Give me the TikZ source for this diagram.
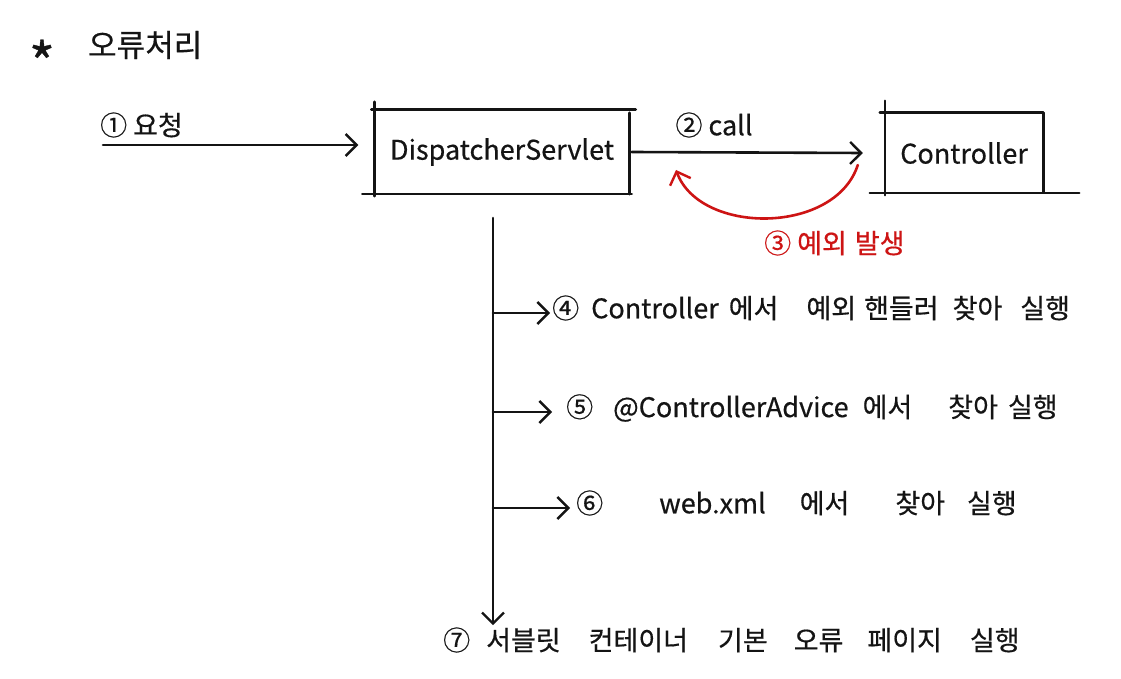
\documentclass[tikz,border=0pt]{standalone}
\usepackage{fontspec}
\setmainfont{Noto Sans CJK KR}[FakeBold=0.5]
\usetikzlibrary{arrows.meta}
\definecolor{penred}{RGB}{205,20,20}
\definecolor{ink}{RGB}{20,20,20}
\begin{document}
\begin{tikzpicture}[x=1pt,y=-1pt,
  pen/.style={line width=2.6pt,line cap=round,line join=round,draw=ink},
  tip/.style={-{Straight Barb[length=11pt,width=22pt,line width=2.4pt]}},
  hand/.style={font=\fontsize{27}{32}\selectfont,inner sep=0pt,text=ink},
  box/.style={hand,minimum height=84pt},
  ]
\useasboundingbox[fill=white] (0,0) rectangle (1121,679);

% title
\node[hand,font=\fontsize{56}{60}\selectfont,anchor=center] (star) at (42,62) {*};
\node[hand,font=\fontsize{31}{36}\selectfont,anchor=west] (title) at (88,45) {오류처리};

% request
\node[hand,anchor=west] (req) at (100,125) {①\hspace{6pt}요청};
\coordinate (reqstart) at (103,145);

% boxes
\node[box,minimum width=255pt] (ds) at (502,152) {DispatcherServlet};
\node[box,minimum width=158pt,minimum height=80pt] (ctl) at (964,153) {Controller};

% DispatcherServlet box (sketchy brackets)
\draw[pen] ([xshift=-3pt]ds.north west) -- ([xshift=6pt]ds.north east);
\draw[pen] ([yshift=8pt]ds.north west) -- ([yshift=-2pt]ds.south west);
\draw[pen] ([xshift=-12pt]ds.south west) -- ([xshift=2pt]ds.south east);
\draw[pen] ([yshift=-3pt]ds.north east) -- (ds.south east);

% Controller box
\draw[pen] ([xshift=-5pt]ctl.north west) -- (ctl.north east);
\draw[pen] ([yshift=12pt]ctl.north west) -- ([yshift=-2pt]ctl.south west);
\draw[pen] ([xshift=-15pt]ctl.south west) -- ([xshift=36pt]ctl.south east);
\draw[pen] (ctl.north east) -- ([yshift=1pt]ctl.south east);

% request arrow
\draw[pen,tip] (reqstart) -- ([xshift=-16pt]reqstart -| ds.west);

% call
\draw[pen,tip] ([xshift=2pt]ds.east) -- ([xshift=-22pt]ctl.west);
\node[hand] (call) at (714,125) {②\hspace{6pt}call};

% exception (red)
\draw[pen,draw=penred,tip] ([xshift=-27pt,yshift=-12pt]ctl.west)
  .. controls (835,235) and (700,235) .. (676,170);
\node[hand,text=penred,anchor=west] (exc) at (764,243) {③\hspace{6pt}예외\hspace{8pt}발생};

% vertical flow
\coordinate (vtop) at (493,218);
\node[hand,anchor=west] (s7) at (443,640) {⑦\hspace{16pt}서블릿\hspace{28pt}컨테이너\hspace{30pt}기본\hspace{26pt}오류\hspace{24pt}페이지\hspace{28pt}실행};
\draw[pen,tip] (vtop) -- ([yshift=2pt]vtop |- s7.north);

% branches
\node[hand,anchor=west] (s4) at (552,308) {④\hspace{12pt}Controller\hspace{10pt}에서\hspace{28pt}예외\hspace{8pt}핸들러\hspace{14pt}찾아\hspace{18pt}실행};
\node[hand,anchor=west] (s5) at (566,408) {⑤\hspace{20pt}@ControllerAdvice\hspace{14pt}에서\hspace{36pt}찾아\hspace{10pt}실행};
\node[hand,anchor=west] (s6) at (576,503) {⑥\hspace{56pt}web.xml\hspace{34pt}에서\hspace{46pt}찾아\hspace{22pt}실행};

\draw[pen,tip] ([yshift=-5pt]s4.west -| vtop) -- ([xshift=-2pt,yshift=-5pt]s4.west);
\draw[pen,tip] ([yshift=-4pt]s5.west -| vtop) -- ([xshift=-14pt,yshift=-4pt]s5.west);
\draw[pen,tip] ([yshift=-5pt]s6.west -| vtop) -- ([xshift=-6pt,yshift=-5pt]s6.west);
\end{tikzpicture}
\end{document}
